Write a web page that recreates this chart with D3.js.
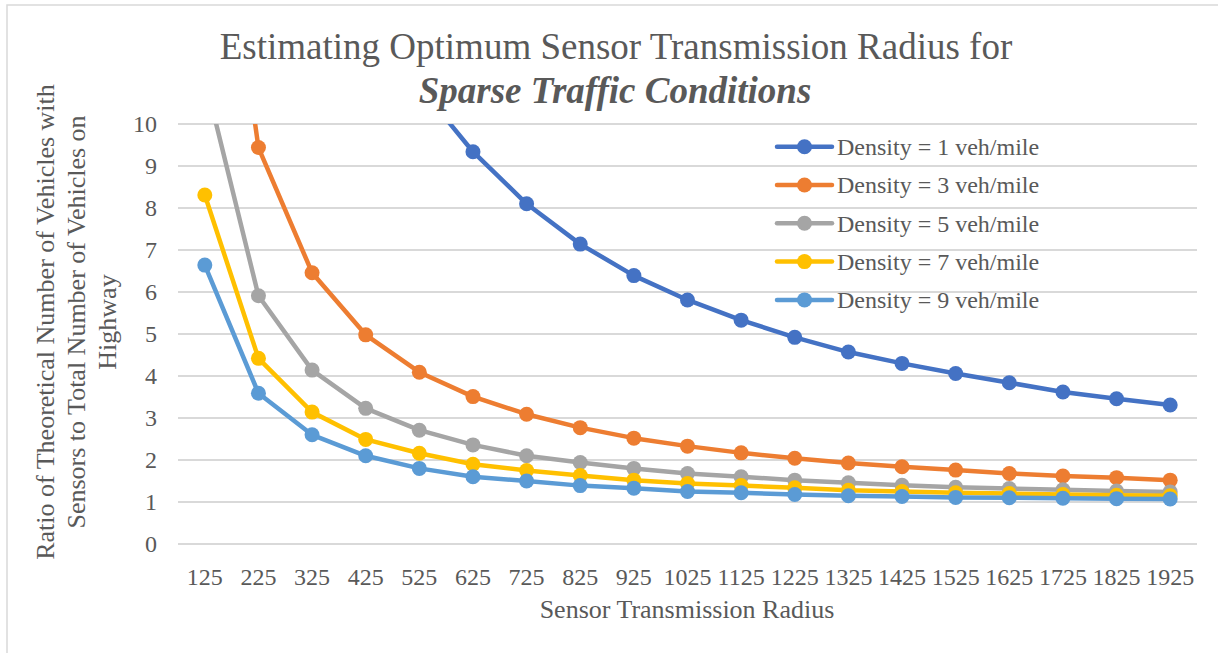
<!DOCTYPE html>
<meta charset="utf-8">
<style>
body {
  margin: 0;
  background-color: #ffffff;
}
text {
  font-family: 'Liberation Serif', 'Times New Roman', serif;
  fill: #595959;
}
.grid line {
  stroke: #d9d9d9;
  stroke-width: 1.5px;
  shape-rendering: crispEdges;
}
.series path {
  fill: none;
  stroke-width: 4.5px;
  stroke-linejoin: round;
}
</style>
<svg width="1218" height="653"></svg>
<script src="https://d3js.org/d3.v7.min.js"></script>
<script>
// sensor transmission radius categories
var radius = [125, 225, 325, 425, 525, 625, 725, 825, 925, 1025, 1125, 1225, 1325, 1425, 1525, 1625, 1725, 1825, 1925];

// ratio values per density (first points of low densities run off the top of the chart)
var density1 = [44.6, 24.8, 17.2, 13.2, 10.9, 9.34, 8.10, 7.14, 6.39, 5.81, 5.33, 4.92, 4.57, 4.30, 4.06, 3.84, 3.62, 3.46, 3.31];
var density3 = [18.5, 9.44, 6.46, 4.98, 4.09, 3.51, 3.09, 2.77, 2.52, 2.33, 2.17, 2.04, 1.93, 1.84, 1.76, 1.68, 1.62, 1.58, 1.52];
var density5 = [11.1, 5.91, 4.14, 3.23, 2.71, 2.36, 2.10, 1.94, 1.80, 1.68, 1.60, 1.52, 1.46, 1.40, 1.35, 1.32, 1.29, 1.26, 1.24];
var density7 = [8.31, 4.42, 3.14, 2.49, 2.16, 1.90, 1.75, 1.63, 1.52, 1.44, 1.39, 1.34, 1.28, 1.25, 1.22, 1.20, 1.18, 1.16, 1.15];
var density9 = [6.64, 3.59, 2.60, 2.10, 1.80, 1.60, 1.50, 1.39, 1.33, 1.25, 1.22, 1.18, 1.15, 1.13, 1.11, 1.10, 1.09, 1.08, 1.07];

var seriesNames = ["Density = 1 veh/mile", "Density = 3 veh/mile", "Density = 5 veh/mile", "Density = 7 veh/mile", "Density = 9 veh/mile"];
var seriesColors = ["#4472C4", "#ED7D31", "#A5A5A5", "#FFC000", "#5B9BD5"];
var yTicks = [0, 1, 2, 3, 4, 5, 6, 7, 8, 9, 10];

var series = [density1, density3, density5, density7, density9].map(function(vals, i) {
  return {name: seriesNames[i], color: seriesColors[i], values: vals};
});

var svg = d3.select("svg"),
    plot = {left: 178, right: 1197, top: 124, bottom: 544};

// chart border
svg.append("rect")
    .attr("x", 7).attr("y", 5)
    .attr("width", 1300).attr("height", 700)
    .attr("fill", "none")
    .attr("stroke", "#d9d9d9")
    .attr("stroke-width", 1.5);

var x = d3.scalePoint().domain(radius).range([plot.left, plot.right]).padding(0.5);
var y = d3.scaleLinear().domain([0, 10]).range([plot.bottom, plot.top]);

// horizontal gridlines
svg.append("g")
    .attr("class", "grid")
  .selectAll("line")
    .data(yTicks)
  .enter().append("line")
    .attr("x1", plot.left)
    .attr("x2", plot.right)
    .attr("y1", function(d) { return y(d); })
    .attr("y2", function(d) { return y(d); });

// y tick labels
svg.append("g")
  .selectAll("text")
    .data(yTicks)
  .enter().append("text")
    .attr("x", 157)
    .attr("y", function(d) { return y(d); })
    .attr("dy", "0.35em")
    .attr("text-anchor", "end")
    .style("font-size", "24px")
    .text(function(d) { return d; });

// x tick labels
svg.append("g")
  .selectAll("text")
    .data(radius)
  .enter().append("text")
    .attr("x", function(d) { return x(d); })
    .attr("y", 577)
    .attr("dy", "0.35em")
    .attr("text-anchor", "middle")
    .style("font-size", "24px")
    .text(function(d) { return d; });

svg.append("defs").append("clipPath")
    .attr("id", "plotClip")
  .append("rect")
    .attr("x", plot.left)
    .attr("y", plot.top)
    .attr("width", plot.right - plot.left)
    .attr("height", plot.bottom - plot.top);

var line = d3.line()
    .x(function(d, i) { return x(radius[i]); })
    .y(function(d) { return y(d); });

var g = svg.append("g").attr("clip-path", "url(#plotClip)");

var sg = g.selectAll(".series")
    .data(series)
  .enter().append("g")
    .attr("class", "series");

sg.append("path")
    .attr("stroke", function(d) { return d.color; })
    .attr("d", function(d) { return line(d.values); });

sg.selectAll("circle")
    .data(function(d) { return d.values.map(function(v, i) { return {v: v, r: radius[i], color: d.color}; }); })
  .enter().append("circle")
    .filter(function(d) { return d.v <= 10; })
    .attr("cx", function(d) { return x(d.r); })
    .attr("cy", function(d) { return y(d.v); })
    .attr("r", 7.5)
    .attr("fill", function(d) { return d.color; });

// legend
var legend = svg.append("g")
  .selectAll("g")
    .data(series)
  .enter().append("g")
    .attr("transform", function(d, i) { return "translate(777," + (146.7 + i * 38.3) + ")"; });

legend.append("line")
    .attr("x1", 0).attr("x2", 55)
    .attr("stroke", function(d) { return d.color; })
    .attr("stroke-width", 4.5)
    .attr("stroke-linecap", "round");

legend.append("circle")
    .attr("cx", 27.5)
    .attr("r", 7.5)
    .attr("fill", function(d) { return d.color; });

legend.append("text")
    .attr("x", 60)
    .attr("dy", "0.35em")
    .style("font-size", "24px")
    .text(function(d) { return d.name; });

// titles
svg.append("text")
    .attr("x", 616).attr("y", 59)
    .attr("text-anchor", "middle")
    .style("font-size", "37px")
    .text("Estimating Optimum Sensor Transmission Radius for");

svg.append("text")
    .attr("x", 615).attr("y", 103)
    .attr("text-anchor", "middle")
    .style("font-size", "37px")
    .style("font-weight", "bold")
    .style("font-style", "italic")
    .text("Sparse Traffic Conditions");

svg.append("text")
    .attr("x", 687).attr("y", 609)
    .attr("dy", "0.35em")
    .attr("text-anchor", "middle")
    .style("font-size", "26px")
    .text("Sensor Transmission Radius");

var yTitle = ["Ratio of Theoretical Number of Vehicles with", "Sensors to Total Number of Vehicles on", "Highway"];
svg.append("g")
    .attr("transform", "translate(45,322) rotate(-90)")
  .selectAll("text")
    .data(yTitle)
  .enter().append("text")
    .attr("x", 0)
    .attr("y", function(d, i) { return i * 31; })
    .attr("dy", "0.35em")
    .attr("text-anchor", "middle")
    .style("font-size", "26px")
    .text(function(d) { return d; });
</script>
